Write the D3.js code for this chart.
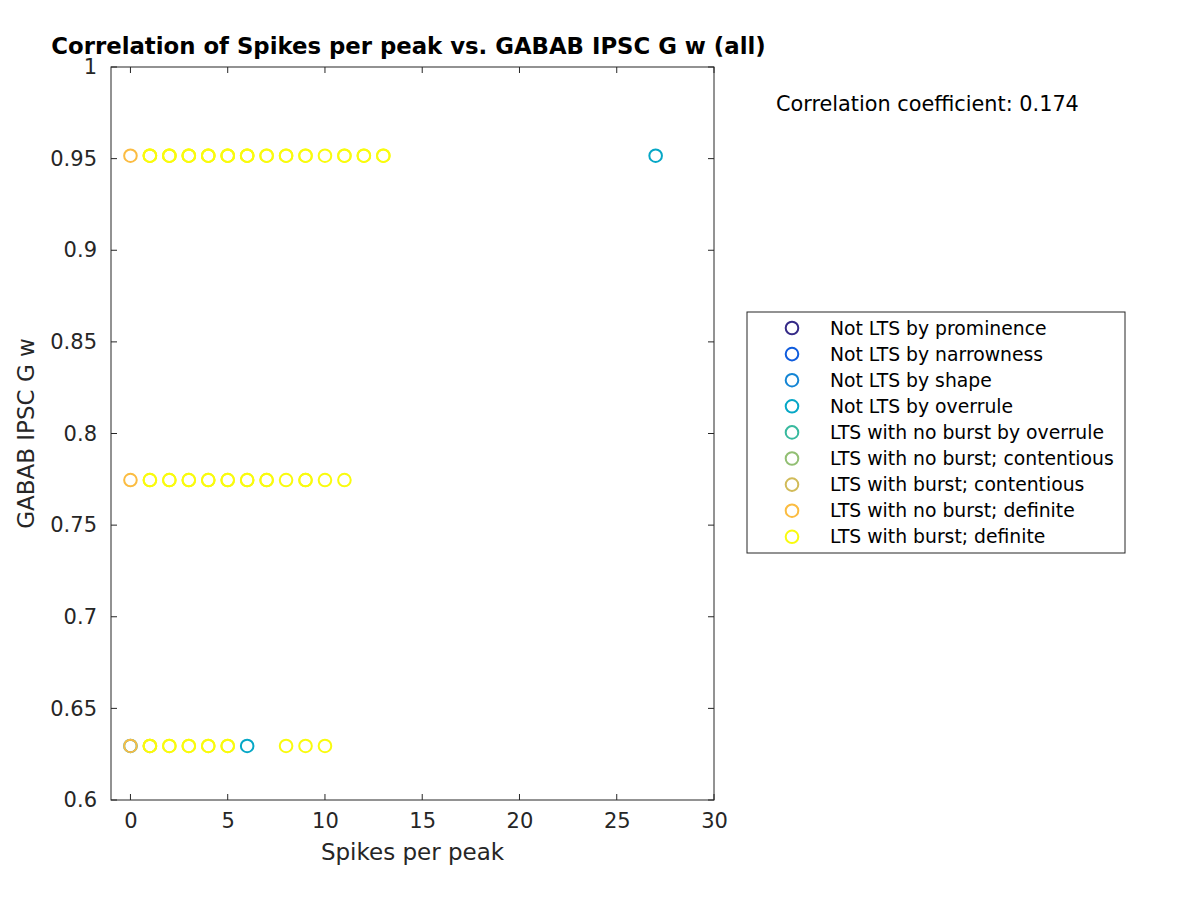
<!DOCTYPE html>
<html>
<head>
<meta charset="utf-8">
<script src="https://cdn.jsdelivr.net/npm/d3@7"></script>
<style>
  html, body { margin: 0; padding: 0; background: #fff; }
  svg { display: block; font-family: "DejaVu Sans", sans-serif; }
</style>
</head>
<body>
<svg id="chart" width="1200" height="900"></svg>
<script>
// ---- data ----
const seriesNames = [
  "Not LTS by prominence",
  "Not LTS by narrowness",
  "Not LTS by shape",
  "Not LTS by overrule",
  "LTS with no burst by overrule",
  "LTS with no burst; contentious",
  "LTS with burst; contentious",
  "LTS with no burst; definite",
  "LTS with burst; definite"
];
const seriesColors = ["#352A87", "#0F5CDD", "#1485D4", "#06A7C6", "#38B99E", "#92BF73", "#D1BB59", "#FBBC41", "#F9FB0E"];

// x = spikes per peak, y = GABAB IPSC G w
const notLTSOverruleX = [27, 6, 0];
const notLTSOverruleY = [0.9516, 0.6295, 0.6295];
const burstContentiousX = [1];
const burstContentiousY = [0.6295];
const noBurstDefiniteX = [0, 0, 0];
const noBurstDefiniteY = [0.9516, 0.7746, 0.6295];
const burstDefiniteX = [1, 2, 3, 4, 5, 6, 7, 8, 9, 10, 11, 12, 13,
                        1, 2, 3, 4, 5, 6, 7, 8, 9, 10, 11,
                        1, 2, 3, 4, 5, 8, 9, 10,
                        1, 1, 2, 2, 3, 3, 4, 4, 5, 5, 6, 6, 7, 8, 9, 11, 12, 13,
                        1, 2, 3, 4, 5, 6, 7, 9,
                        1, 2, 3, 4, 5];
const burstDefiniteY = [0.9516, 0.9516, 0.9516, 0.9516, 0.9516, 0.9516, 0.9516, 0.9516, 0.9516, 0.9516, 0.9516, 0.9516, 0.9516,
                        0.7746, 0.7746, 0.7746, 0.7746, 0.7746, 0.7746, 0.7746, 0.7746, 0.7746, 0.7746, 0.7746,
                        0.6295, 0.6295, 0.6295, 0.6295, 0.6295, 0.6295, 0.6295, 0.6295,
                        0.9516, 0.9516, 0.9516, 0.9516, 0.9516, 0.9516, 0.9516, 0.9516, 0.9516, 0.9516, 0.9516, 0.9516, 0.9516, 0.9516, 0.9516, 0.9516, 0.9516, 0.9516,
                        0.7746, 0.7746, 0.7746, 0.7746, 0.7746, 0.7746, 0.7746, 0.7746,
                        0.6295, 0.6295, 0.6295, 0.6295, 0.6295];

const xTicks = [0, 5, 10, 15, 20, 25, 30];
const yTicks = [0.6, 0.65, 0.7, 0.75, 0.8, 0.85, 0.9, 0.95, 1];
const xDomain = [-1, 30];
const yDomain = [0.6, 1];
const titleText = "Correlation of Spikes per peak vs. GABAB IPSC G w (all)";
const xLabelText = "Spikes per peak";
const yLabelText = "GABAB IPSC G w";
const corrText = "Correlation coefficient: 0.174";

(function () {
// ---- build ----
const points = [];
function addSeries(idx, xs, ys) { xs.forEach((x, i) => points.push({s: idx, x: x, y: ys[i]})); }
addSeries(3, notLTSOverruleX, notLTSOverruleY);
addSeries(6, burstContentiousX, burstContentiousY);
addSeries(7, noBurstDefiniteX, noBurstDefiniteY);
addSeries(8, burstDefiniteX, burstDefiniteY);
points.sort((a, b) => a.s - b.s);

const svg = d3.select("#chart");
const pL = 111, pR = 714, pT = 67, pB = 800;
const x = d3.scaleLinear().domain(xDomain).range([pL, pR]);
const y = d3.scaleLinear().domain(yDomain).range([pB, pT]);
const axisColor = "#262626";

// points
svg.append("g").selectAll("circle").data(points).join("circle")
  .attr("cx", d => x(d.x)).attr("cy", d => y(d.y)).attr("r", 6.3)
  .attr("fill", "none").attr("stroke", d => seriesColors[d.s]).attr("stroke-width", 2);

// box
svg.append("rect").attr("x", pL).attr("y", pT).attr("width", pR - pL).attr("height", pB - pT)
  .attr("fill", "none").attr("stroke", axisColor).attr("stroke-width", 1);

const xAxis = d3.axisBottom(x).tickValues(xTicks).tickSize(0).tickPadding(13).tickFormat(d3.format("d"));
const gx = svg.append("g").attr("transform", `translate(0,${pB})`).call(xAxis);
const yAxis = d3.axisLeft(y).tickValues(yTicks).tickSize(0).tickPadding(14).tickFormat(d => d3.format("")(d));
const gy = svg.append("g").attr("transform", `translate(${pL},0)`).call(yAxis);
[gx, gy].forEach(g => {
  g.select(".domain").remove();
  g.selectAll("text").attr("fill", axisColor).style("font-size", "21px").style("font-family", "DejaVu Sans");
});
// inner ticks, both sides
const tl = 6;
xTicks.forEach(t => {
  svg.append("line").attr("x1", x(t)).attr("x2", x(t)).attr("y1", pB).attr("y2", pB - tl).attr("stroke", axisColor);
  svg.append("line").attr("x1", x(t)).attr("x2", x(t)).attr("y1", pT).attr("y2", pT + tl).attr("stroke", axisColor);
});
yTicks.forEach(t => {
  svg.append("line").attr("x1", pL).attr("x2", pL + tl).attr("y1", y(t)).attr("y2", y(t)).attr("stroke", axisColor);
  svg.append("line").attr("x1", pR).attr("x2", pR - tl).attr("y1", y(t)).attr("y2", y(t)).attr("stroke", axisColor);
});

// labels
svg.append("text").attr("x", (pL + pR) / 2).attr("y", 860).attr("text-anchor", "middle")
  .style("font-size", "23px").attr("fill", axisColor).text(xLabelText);
svg.append("text").attr("transform", `translate(34,${(pT + pB) / 2}) rotate(-90)`).attr("text-anchor", "middle")
  .style("font-size", "23px").attr("fill", axisColor).text(yLabelText);
svg.append("text").attr("x", 408.5).attr("y", 54).attr("text-anchor", "middle")
  .style("font-size", "22.8px").style("font-weight", "bold").attr("fill", "#000").text(titleText);
svg.append("text").attr("x", 776).attr("y", 111)
  .style("font-size", "20.8px").attr("fill", "#000").text(corrText);

// legend
const lg = svg.append("g");
lg.append("rect").attr("x", 747).attr("y", 312).attr("width", 378).attr("height", 241)
  .attr("fill", "#fff").attr("stroke", axisColor).attr("stroke-width", 1);
seriesNames.forEach((n, i) => {
  const yy = 328 + i * 26.1;
  lg.append("circle").attr("cx", 792).attr("cy", yy).attr("r", 6.3).attr("fill", "none")
    .attr("stroke", seriesColors[i]).attr("stroke-width", 2);
  lg.append("text").attr("x", 830).attr("y", yy + 6.5).style("font-size", "18.8px").attr("fill", "#000").text(n);
});
})();
</script>
</body>
</html>
